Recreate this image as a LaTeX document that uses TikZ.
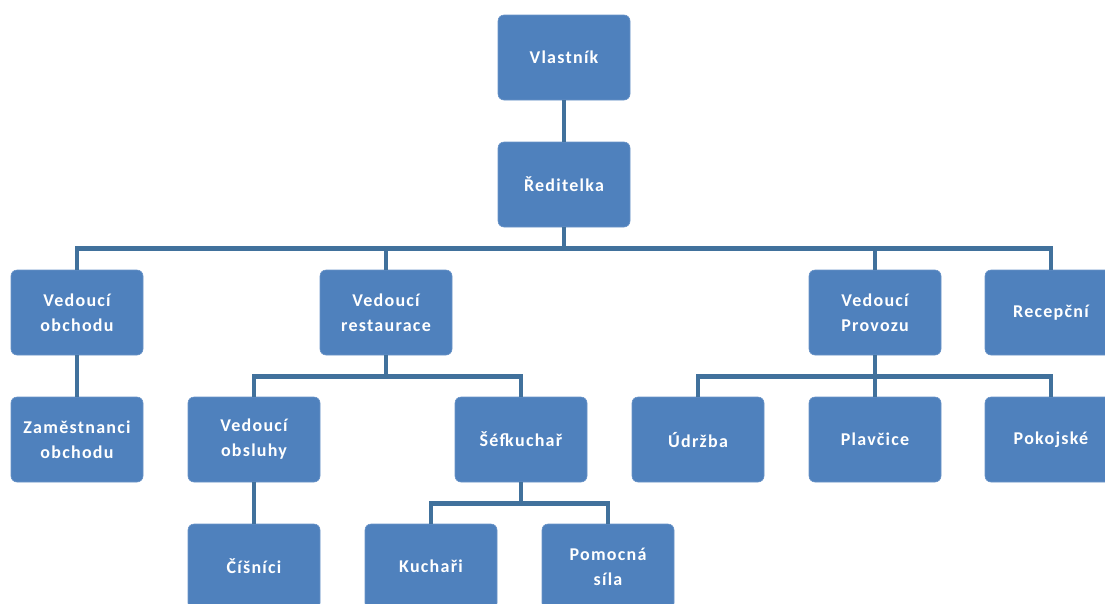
\documentclass[tikz,border=0pt]{standalone}
\usepackage{fontspec}
\setmainfont{Carlito}[LetterSpace=7]
\begin{document}
\begin{tikzpicture}[x=1pt,y=-1pt,
  box/.style={draw=boxedge,line width=0.6pt,fill=boxfill,rounded corners=6pt,minimum width=132pt,minimum height=85pt,
    text=white,font=\fontsize{18}{25}\selectfont\bfseries,align=center,inner sep=0pt},
  conn/.style={draw=linecol,line width=4.5pt}]
\definecolor{boxfill}{HTML}{4F81BD}
\definecolor{boxedge}{HTML}{6A94C8}
\definecolor{linecol}{HTML}{41719C}
\useasboundingbox (0,0) rectangle (1105,603);
\clip (0,0) rectangle (1105,603);
% row 1,2
\node[box] (vl) at (564,57.5) {Vlastník};
\node[box] (re) at (564,184.5) {Ředitelka};
% row 3
\node[box] (vo) at (77,312.5) {Vedoucí\\obchodu};
\node[box] (vr) at (386,312.5) {Vedoucí\\restaurace};
\node[box] (vp) at (875,312.5) {Vedoucí\\Provozu};
\node[box] (rc) at (1051,312.5) {Recepční};
% row 4
\node[box] (zo) at (77,439.5) {Zaměstnanci\\obchodu};
\node[box] (vob) at (254,439.5) {Vedoucí\\obsluhy};
\node[box] (sk) at (521,439.5) {Šéfkuchař};
\node[box] (ud) at (698,439.5) {Údržba};
\node[box] (pl) at (875,439.5) {Plavčice};
\node[box] (pk) at (1051,439.5) {Pokojské};
% row 5
\node[box] (cs) at (254,566.5) {Číšníci};
\node[box] (ku) at (431,566.5) {Kuchaři};
\node[box] (ps) at (608,566.5) {Pomocná\\síla};
% connectors
\draw[conn] (vl.south) -- (re.north);
\draw[conn] (re.south) -- ++(0,21) coordinate (b1);
\draw[conn] (vo.north) |- (b1) -| (rc.north);
\draw[conn] (vr.north) |- (b1);
\draw[conn] (vp.north) |- (b1);
\draw[conn] (vo.south) -- (zo.north);
\draw[conn] (vr.south) -- ++(0,21) coordinate (b2);
\draw[conn] (vob.north) |- (b2) -| (sk.north);
\draw[conn] (vp.south) -- ++(0,21) coordinate (b3);
\draw[conn] (ud.north) |- (b3) -| (pk.north);
\draw[conn] (pl.north) -- (b3);
\draw[conn] (vob.south) -- (cs.north);
\draw[conn] (sk.south) -- ++(0,21) coordinate (b4);
\draw[conn] (ku.north) |- (b4) -| (ps.north);
\end{tikzpicture}
\end{document}
